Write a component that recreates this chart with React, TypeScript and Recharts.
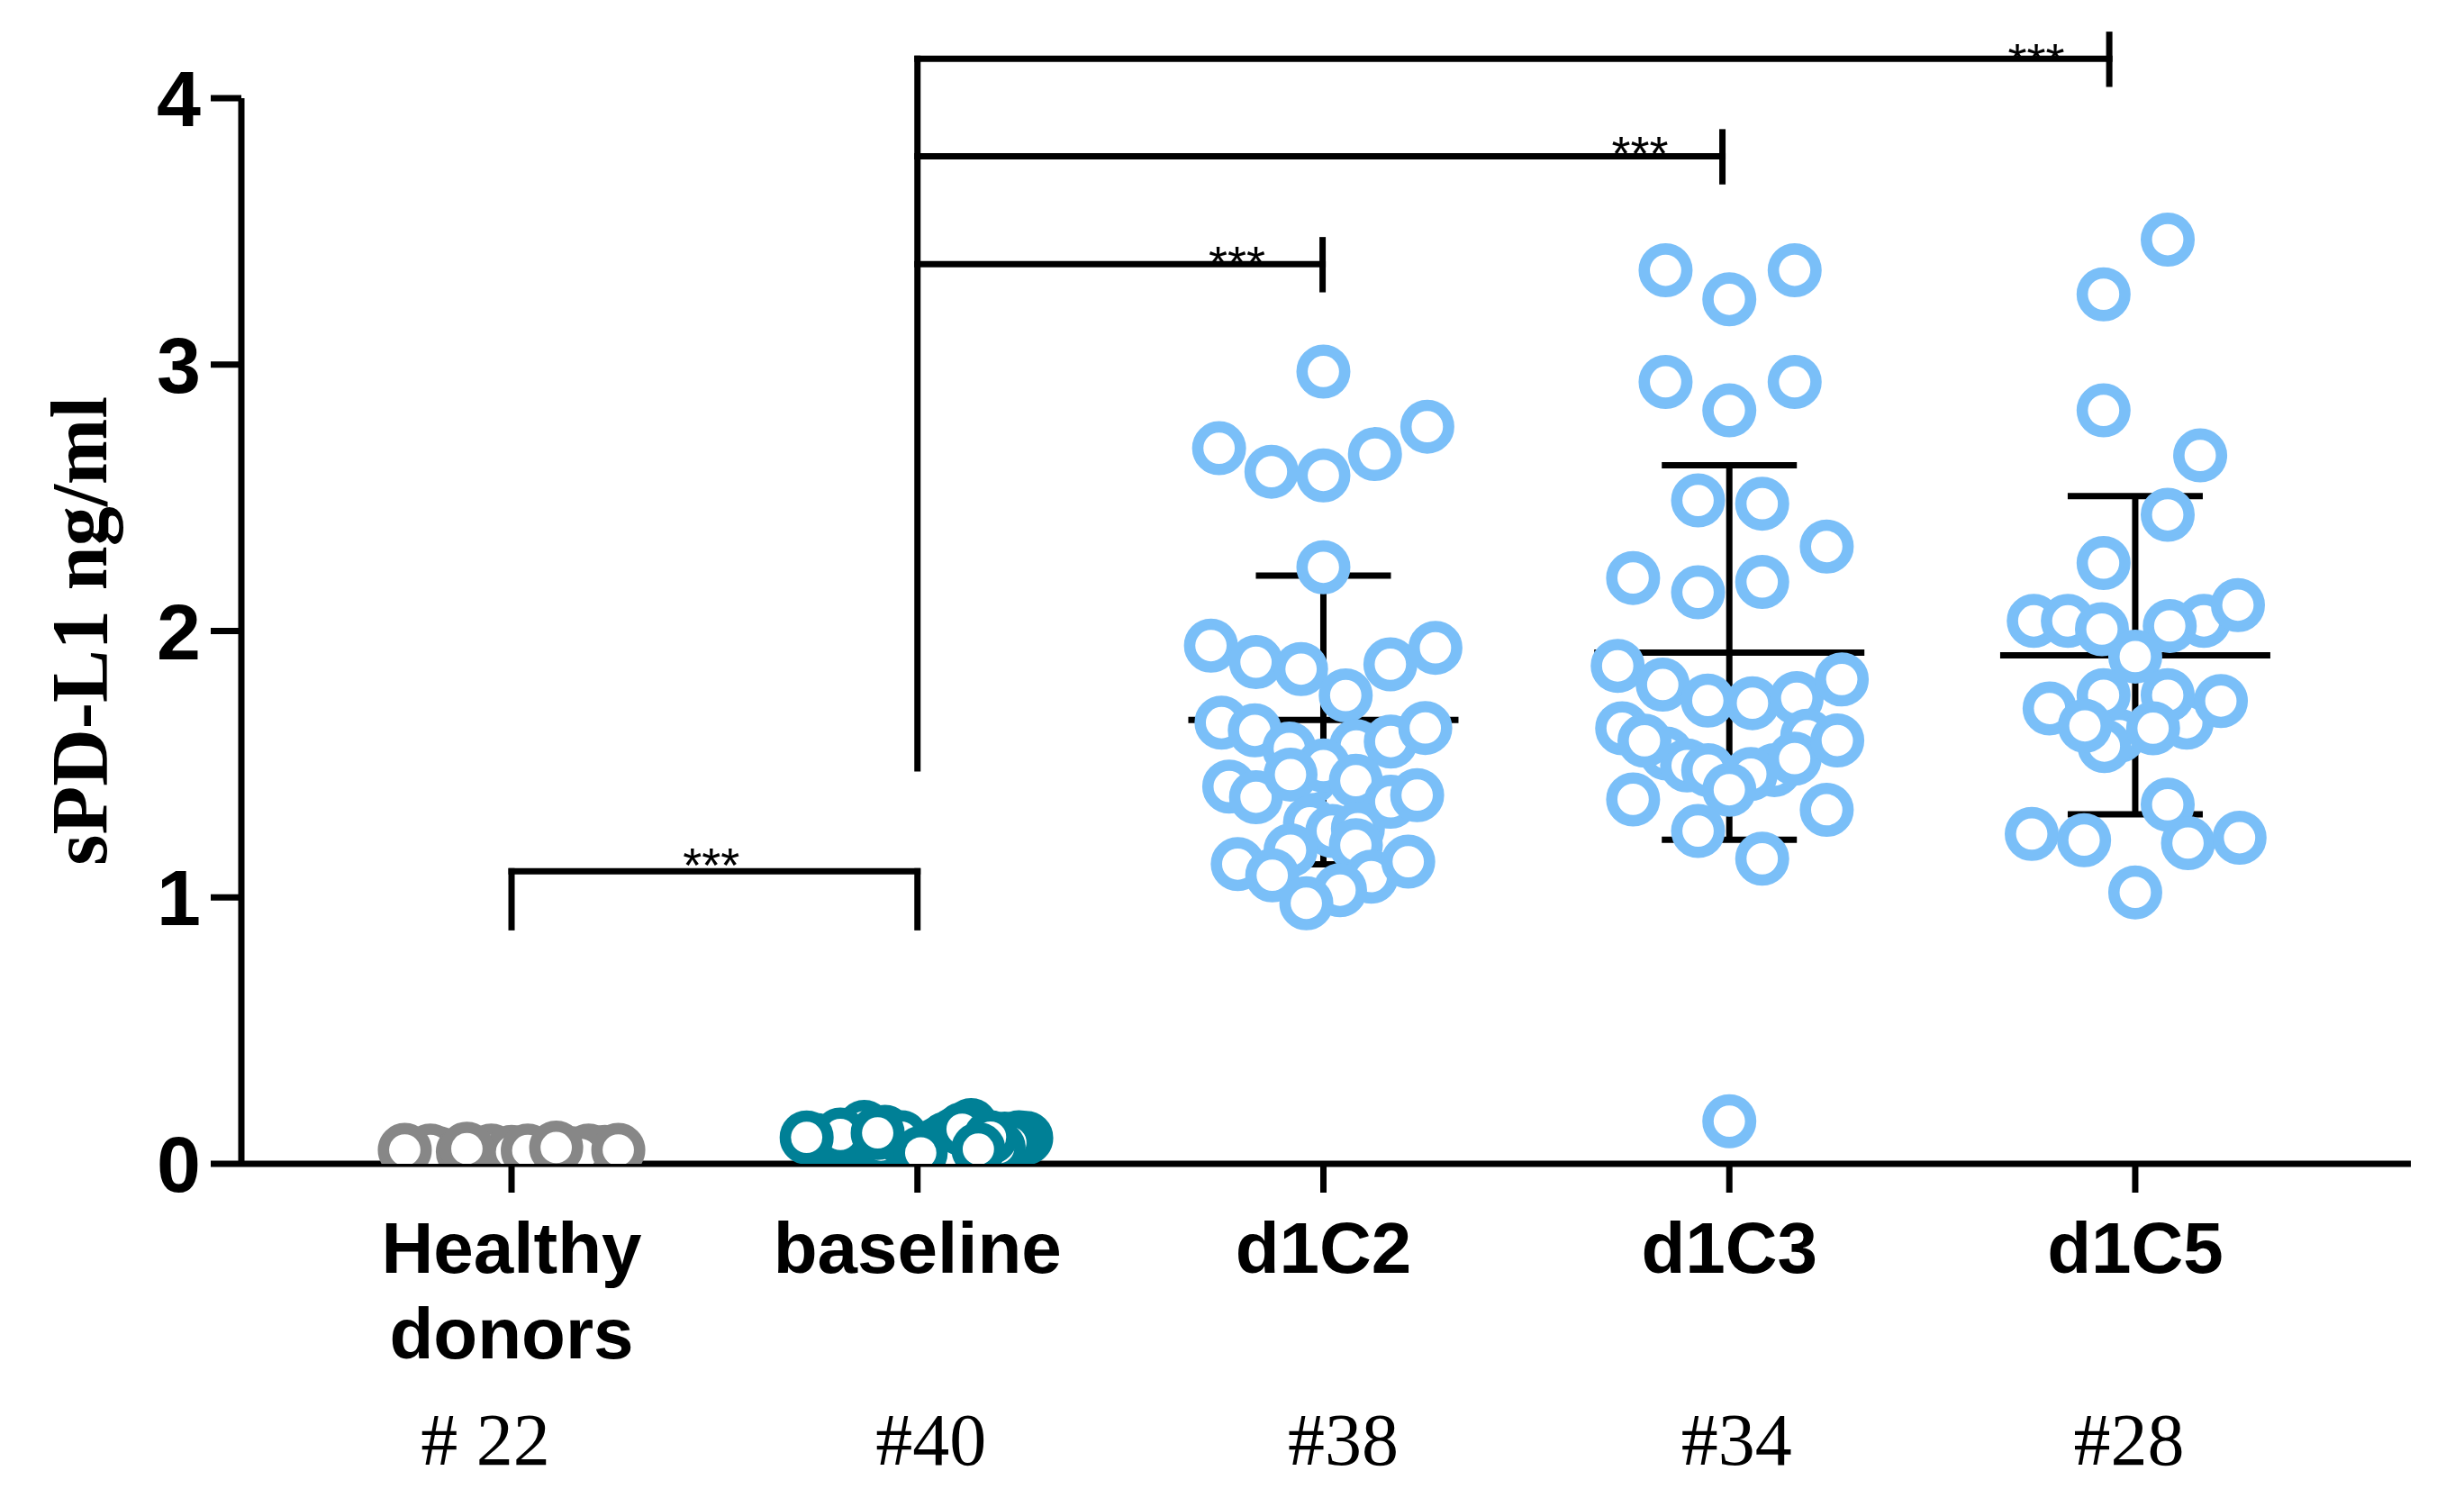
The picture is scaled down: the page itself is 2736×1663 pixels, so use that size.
import { ScatterChart, Scatter, XAxis, YAxis, ErrorBar, ReferenceLine, ReferenceDot } from 'recharts'

const CATEGORIES = ['Healthy\ndonors', 'baseline', 'd1C2', 'd1C3', 'd1C5']
const COUNTS = ['# 22', '#40', '#38', '#34', '#28']
const Y_TICKS = [0, 1, 2, 3, 4]
const COLORS = ['#878787', '#008096', '#7abff8', '#7abff8', '#7abff8']

// values per group, with horizontal scatter (in category units)
const HEALTHY_VALUES = [0.035, 0.04, 0.03, 0.035, 0.025, 0.03, 0.028, 0.035, 0.03, 0.04, 0.05, 0.045, 0.05, 0.05, 0.045, 0.05, 0.035, 0.045, 0.052, 0.057, 0.061, 0.052]
const HEALTHY_JITTER = [-0.22, -0.18, -0.15, -0.07, -0.04, -0.01, 0.02, 0.05, 0.08, 0.15, 0.19, 0.23, -0.2, -0.05, 0, 0.04, 0.17, -0.12, -0.263, -0.11, 0.11, 0.263]

const BASELINE_VALUES = [0.139, 0.145, 0.097, 0.09, 0.095, 0.085, 0.1, 0.08, 0.095, 0.085, 0.07, 0.052, 0.06, 0.08, 0.06, 0.007, 0.02, 0.045, 0.075, 0.095, 0.11, 0.06, 0.05, 0.12, 0.1, 0.03, 0.04, 0.09, 0.12, 0.09, 0.11, 0.06, 0.07, 0.13, 0.1, 0.1, 0.099, 0.116, 0.041, 0.055]
const BASELINE_JITTER = [-0.131, 0.132, 0.268, 0.24, 0.215, 0.19, 0.25, 0.23, -0.2, -0.22, -0.17, -0.142, -0.12, -0.06, -0.03, 0, -0.02, 0.03, 0.05, 0.07, 0.09, 0.1, 0.12, -0.08, -0.11, 0.06, -0.05, 0.16, 0.14, -0.25, -0.19, 0.2, -0.09, 0.11, 0.18, -0.04, -0.273, -0.098, 0.008, 0.15]

const D1C2_VALUES = [2.974, 2.686, 2.598, 2.584, 2.664, 2.767, 2.239, 1.945, 1.883, 1.857, 1.758, 1.875, 1.937, 1.656, 1.627, 1.559, 1.568, 1.585, 1.636, 1.45, 1.495, 1.416, 1.376, 1.461, 1.438, 1.359, 1.384, 1.28, 1.249, 1.258, 1.177, 1.196, 1.125, 1.083, 1.078, 1.134, 1.027, 0.978]
const D1C2_JITTER = [0, -0.257, -0.128, 0, 0.127, 0.256, 0, -0.277, -0.166, -0.055, 0.055, 0.165, 0.276, -0.251, -0.169, -0.084, 0.081, 0.166, 0.251, -0.03, 0, -0.232, -0.166, -0.081, 0.08, 0.166, 0.231, -0.033, 0.022, 0.085, -0.081, 0.08, -0.211, -0.126, 0.118, 0.209, 0.041, -0.042]

const D1C3_VALUES = [3.354, 3.245, 3.354, 2.935, 2.828, 2.935, 2.49, 2.478, 2.317, 2.199, 2.145, 2.184, 1.869, 1.799, 1.739, 1.729, 1.748, 1.818, 1.635, 1.607, 1.54, 1.495, 1.478, 1.588, 1.478, 1.463, 1.521, 1.589, 1.404, 1.368, 1.329, 1.249, 1.145, 0.16]
const D1C3_JITTER = [-0.157, 0, 0.161, -0.157, 0, 0.161, -0.077, 0.081, 0.24, -0.237, -0.077, 0.081, -0.275, -0.164, -0.053, 0.057, 0.166, 0.277, -0.264, 0.192, -0.155, -0.104, 0.111, -0.209, -0.052, 0.053, 0.161, 0.266, 0, -0.237, 0.24, -0.077, 0.081, 0]

const D1C5_VALUES = [3.469, 3.264, 2.828, 2.659, 2.436, 2.255, 2.038, 2.038, 2.007, 2.038, 2.019, 2.097, 1.904, 1.709, 1.607, 1.568, 1.759, 1.656, 1.759, 1.737, 1.644, 1.635, 1.348, 1.238, 1.215, 1.204, 1.224, 1.019]
const D1C5_JITTER = [0.08, -0.078, -0.078, 0.16, 0.08, -0.078, -0.25, -0.166, -0.082, 0.169, 0.085, 0.253, 0, -0.211, -0.039, -0.076, -0.078, 0.127, 0.08, 0.211, -0.124, 0.044, 0.08, -0.255, -0.126, 0.13, 0.257, 0]

const GROUP_VALUES = [HEALTHY_VALUES, BASELINE_VALUES, D1C2_VALUES, D1C3_VALUES, D1C5_VALUES]
const GROUP_JITTER = [HEALTHY_JITTER, BASELINE_JITTER, D1C2_JITTER, D1C3_JITTER, D1C5_JITTER]

// mean +/- SD drawn for the treatment groups
const SUMMARY_GROUPS = [2, 3, 4]
const MEANS = [1.666, 1.919, 1.909]
const SDS = [0.542, 0.703, 0.597]

// significance brackets
const BRACKET_Y = [1.098, 3.377, 3.782, 4.148]
const BRACKET_X = [[0, 1], [1, 1.998], [1, 2.983], [1, 3.936]]
const STAR_POS = [[0.492, 1.058], [1.787, 3.317], [2.78, 3.73], [3.756, 4.078]]

const SANS = '"Liberation Sans", Arial, sans-serif'
const SERIF = '"Liberation Serif", "Times New Roman", serif'
const STROKE = 7

const groupData = GROUP_VALUES.map((values, i) =>
    values.map((v, k) => ({ x: i + GROUP_JITTER[i][k], y: v }))
)
const summaryData = SUMMARY_GROUPS.map((g, i) => ({ x: g, y: MEANS[i], sd: SDS[i] }))

const ring = (color: string) => (props: any) => (
    <circle cx={props.cx} cy={props.cy} r={23.7} fill="#fff" stroke={color} strokeWidth={12.6} />
)

const MeanLine = (props: any) => (
    <line x1={props.cx - 150} x2={props.cx + 150} y1={props.cy} y2={props.cy} stroke="#000" strokeWidth={STROKE} />
)

const COUNT_NUDGE = [-29, 15, 22, 8, -7]

const CategoryTick = (props: any) => {
    const { x, y, payload } = props
    const i = Math.round(payload.value)
    const lines = CATEGORIES[i].split('\n')
    return (
        <g>
            {lines.map((line, k) => (
                <text key={k} x={x} y={y + 89 + k * 95} textAnchor="middle" fontFamily={SANS} fontWeight={700} fontSize={80} fill="#000">
                    {line}
                </text>
            ))}
            <text x={x + COUNT_NUDGE[i]} y={y + 302} textAnchor="middle" fontFamily={SERIF} fontSize={82} fill="#000">
                {COUNTS[i]}
            </text>
        </g>
    )
}

const renderYLabel = (props: any) => {
    const vb = props.viewBox
    const cy = vb.y + vb.height / 2
    return (
        <text transform={`translate(${vb.x + 118}, ${cy}) rotate(-90)`} textAnchor="middle" fontFamily={SERIF} fontWeight={700} fontSize={88} fill="#000">
            sPD-L1 ng/ml
        </text>
    )
}

const renderStars = (props: any) => {
    const vb = props.viewBox
    return (
        <text x={vb.x + vb.width / 2} y={vb.y + vb.height / 2} textAnchor="middle" fontFamily={SANS} fontSize={54} fill="#000">
            ***
        </text>
    )
}

export default function App() {
    const segments: { x: number; y: number }[][] = []
    BRACKET_X.forEach(([x1, x2], i) => {
        const y = BRACKET_Y[i]
        segments.push([{ x: x1, y }, { x: x2, y }])
        if (i === 0) {
            segments.push([{ x: x1, y: 0.888 }, { x: x1, y }])
            segments.push([{ x: x2, y: 0.888 }, { x: x2, y }])
        } else {
            segments.push([{ x: x2, y: y - 0.094 }, { x: x2, y: y + 0.09 }])
        }
    })
    segments.push([{ x: 1, y: 1.484 }, { x: 1, y: BRACKET_Y[3] }])

    return (
        <div style={{ position: 'absolute', left: 0, top: 0, background: '#fff' }}>
            <ScatterChart width={2736} height={1663} margin={{ top: 109, right: 59, bottom: 0, left: 0 }}>
                <XAxis
                    type="number"
                    dataKey="x"
                    domain={[-0.6656, 4.679]}
                    ticks={Y_TICKS}
                    allowDataOverflow
                    interval={0}
                    height={371}
                    tickSize={32}
                    tickMargin={0}
                    axisLine={{ stroke: '#000', strokeWidth: STROKE }}
                    tickLine={{ stroke: '#000', strokeWidth: STROKE }}
                    tick={(p: any) => <CategoryTick {...p} />}
                />
                <YAxis
                    type="number"
                    dataKey="y"
                    domain={[0, 4]}
                    ticks={Y_TICKS}
                    allowDataOverflow
                    width={268}
                    tickSize={34}
                    tickMargin={11}
                    axisLine={{ stroke: '#000', strokeWidth: STROKE }}
                    tickLine={{ stroke: '#000', strokeWidth: STROKE }}
                    tick={{ fill: '#000', fontSize: 88, fontWeight: 700, fontFamily: SANS }}
                    label={renderYLabel}
                />
                {segments.map((s, i) => (
                    <ReferenceLine key={i} segment={s} stroke="#000" strokeWidth={STROKE} strokeLinecap="square" ifOverflow="visible" />
                ))}
                {STAR_POS.map(([x, y], i) => (
                    <ReferenceDot key={i} x={x} y={y} r={0} fill="none" stroke="none" ifOverflow="visible" label={renderStars} />
                ))}
                <Scatter data={summaryData} shape={MeanLine} isAnimationActive={false}>
                    <ErrorBar dataKey="sd" direction="y" width={75} stroke="#000" strokeWidth={STROKE} isAnimationActive={false} />
                </Scatter>
                {groupData.map((d, i) => (
                    <Scatter key={i} data={d} shape={ring(COLORS[i])} isAnimationActive={false} />
                ))}
            </ScatterChart>
        </div>
    )
}
